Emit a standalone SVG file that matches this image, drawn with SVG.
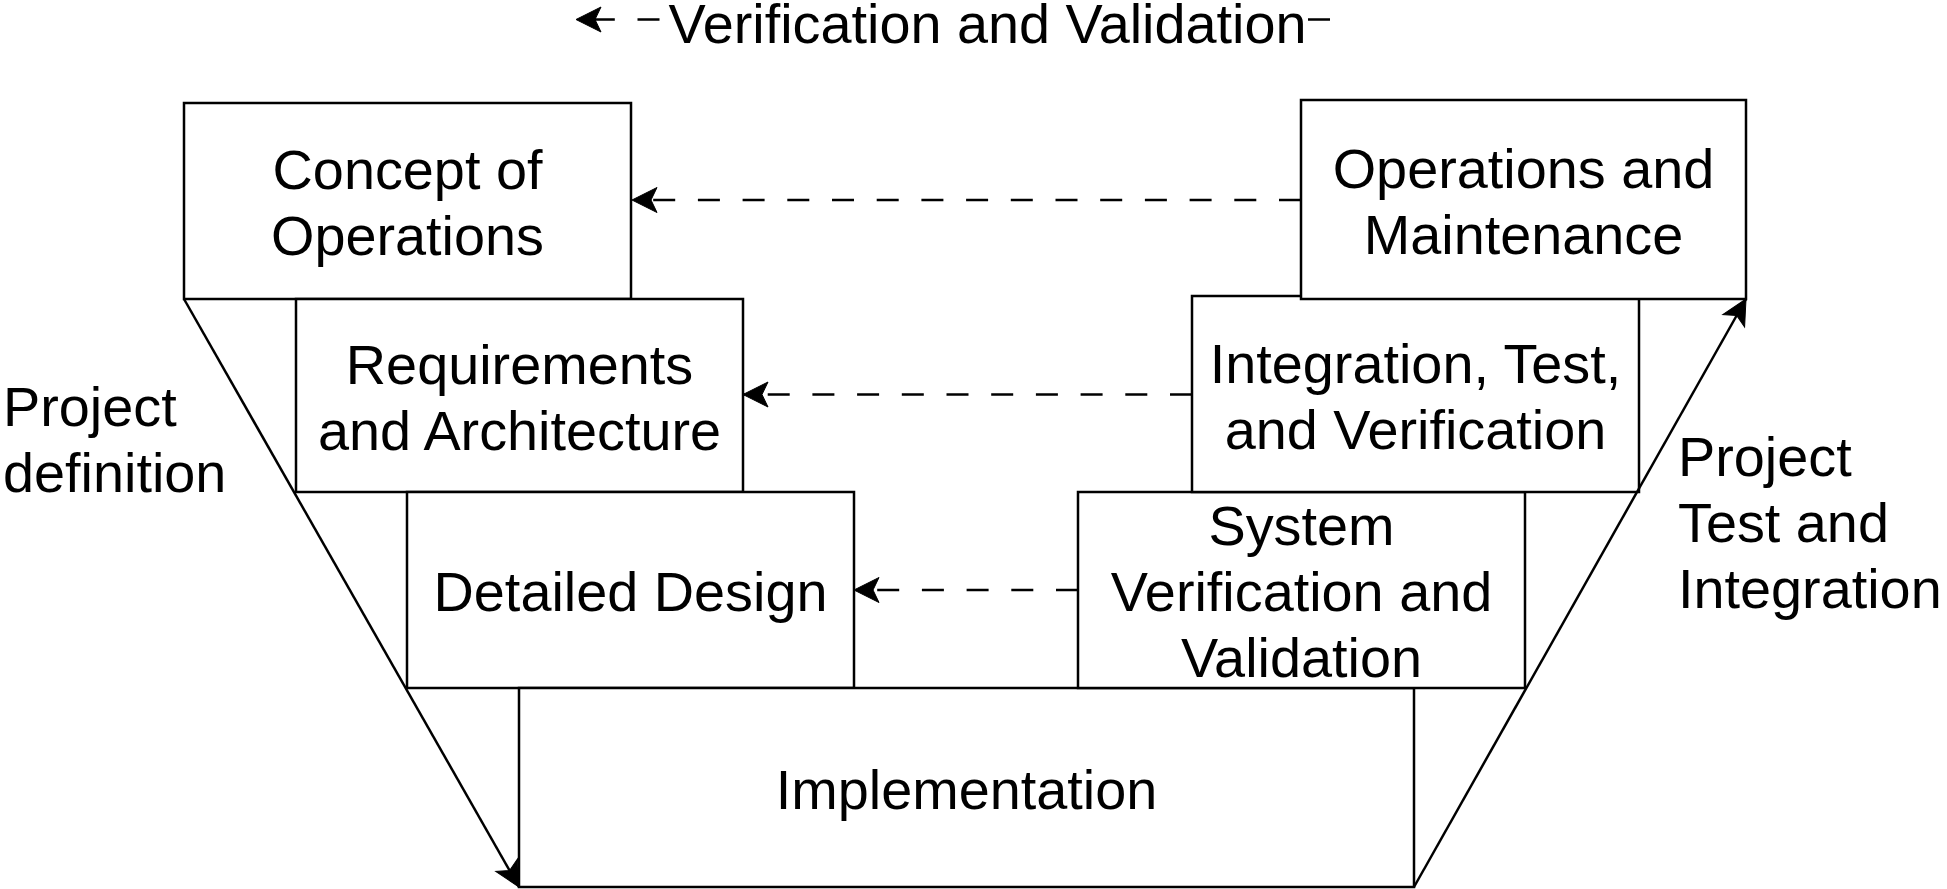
<svg xmlns="http://www.w3.org/2000/svg" width="1947" height="889" viewBox="0 0 1947 889">
<style>
.box{fill:#fff;stroke:#000;stroke-width:2.5}
.t{font-family:"Liberation Sans",Arial,sans-serif;font-size:55.8px;fill:#000;text-anchor:middle}
.l{font-family:"Liberation Sans",Arial,sans-serif;font-size:55.8px;fill:#000;text-anchor:start}
.edge{fill:none;stroke:#000;stroke-width:2.5}
.dash{stroke-dasharray:22 22.7}
</style>
<defs>
<marker id="arr" markerUnits="userSpaceOnUse" viewBox="-27 -14 28 28" markerWidth="28" markerHeight="28" refX="0" refY="0" orient="auto">
<path d="M0,0 L-25,-12.5 L-19,0 L-25,12.5 Z" fill="#000" stroke="#000" stroke-width="1"/>
</marker>
</defs>
<rect width="1947" height="889" fill="#fff"/>

<g id="concept">
<rect class="box" x="184" y="103" width="447" height="196"/>
<text class="t" x="407.5" y="189">Concept of</text>
<text class="t" x="407.5" y="255">Operations</text>
</g>
<g id="requirements">
<rect class="box" x="296" y="299" width="447" height="193"/>
<text class="t" x="519.5" y="384">Requirements</text>
<text class="t" x="519.5" y="450">and Architecture</text>
</g>
<g id="detailed-design">
<rect class="box" x="407" y="492" width="447" height="196"/>
<text class="t" x="630.5" y="611">Detailed Design</text>
</g>
<g id="implementation">
<rect class="box" x="519" y="688" width="895" height="199"/>
<text class="t" x="966.5" y="809">Implementation</text>
</g>
<g id="system-vv">
<rect class="box" x="1078" y="492" width="447" height="196"/>
<text class="t" x="1301.5" y="545">System</text>
<text class="t" x="1301.5" y="611">Verification and</text>
<text class="t" x="1301.5" y="677">Validation</text>
</g>
<g id="integration">
<rect class="box" x="1192" y="296" width="447" height="196"/>
<text class="t" x="1415.5" y="383">Integration, Test,</text>
<text class="t" x="1415.5" y="449">and Verification</text>
</g>
<g id="operations">
<rect class="box" x="1301" y="100" width="445" height="199"/>
<text class="t" x="1523.5" y="188">Operations and</text>
<text class="t" x="1523.5" y="254">Maintenance</text>
</g>

<g id="connectors">
<path class="edge" d="M184,299 L519,887" marker-end="url(#arr)"/>
<path class="edge" d="M1414,887 L1746,299" marker-end="url(#arr)"/>
<path class="edge dash" d="M1301,200 L632,200" marker-end="url(#arr)"/>
<path class="edge dash" d="M1192,394.5 L743,394.5" marker-end="url(#arr)"/>
<path class="edge dash" d="M1078,590 L854,590" marker-end="url(#arr)"/>
<path class="edge dash" d="M1330,19.5 L576,19.5" marker-end="url(#arr)"/>
<rect x="662" y="0" width="646" height="50" fill="#fff"/>
<text class="t" x="987.5" y="43">Verification and Validation</text>
</g>

<g id="labels">
<text class="l" x="3" y="426">Project</text>
<text class="l" x="3" y="492">definition</text>
<text class="l" x="1678" y="476">Project</text>
<text class="l" x="1678" y="542">Test and</text>
<text class="l" x="1678" y="608">Integration</text>
</g>
</svg>
